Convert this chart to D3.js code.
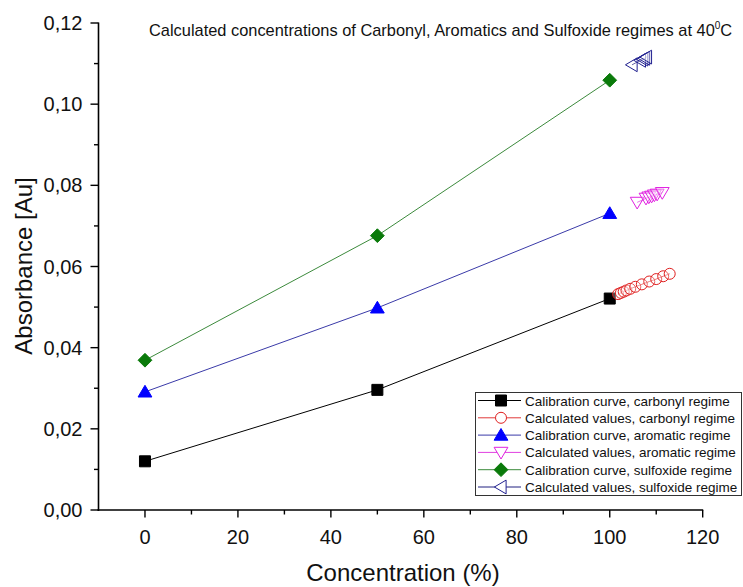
<!DOCTYPE html>
<html>
<head>
<meta charset="utf-8">
<script src="https://cdn.jsdelivr.net/npm/d3@7/dist/d3.min.js"></script>
<style>
  body { margin: 0; background: #fff; }
  svg { display: block; font-family: "Liberation Sans", Arial, sans-serif; }
</style>
</head>
<body>
<svg id="chart" width="743" height="587"></svg>
<script>
// ---- data ----
const calibX = [0, 50, 100];
const carbonylCal = [0.012, 0.0296, 0.0521];
const aromaticCal = [0.0291, 0.0498, 0.0731];
const sulfoxideCal = [0.0369, 0.0676, 0.1059];

const carbonylCalcX = [101.8, 102.4, 103.0, 103.6, 104.4, 105.5, 106.9, 108.5, 110.0, 111.5, 112.9];
const carbonylCalcY = [0.0532, 0.0535, 0.0538, 0.0541, 0.0545, 0.0550, 0.0556, 0.0563, 0.0569, 0.0576, 0.0582];

const aromaticCalcX = [105.9, 107.8, 108.4, 109.0, 109.6, 110.2, 111.3];
const aromaticCalcY = [0.0758, 0.0768, 0.0771, 0.0773, 0.0776, 0.0778, 0.0782];

const sulfoxideCalcX = [104.8, 106.6, 107.1, 107.5, 107.9];
const sulfoxideCalcY = [0.1097, 0.1108, 0.1111, 0.1113, 0.1116];

const xTicks = [0, 20, 40, 60, 80, 100, 120];
const yTicks = [0, 0.02, 0.04, 0.06, 0.08, 0.10, 0.12];

const legendLabels = [
  "Calibration curve, carbonyl regime",
  "Calculated values, carbonyl regime",
  "Calibration curve, aromatic regime",
  "Calculated values, aromatic regime",
  "Calibration curve, sulfoxide regime",
  "Calculated values, sulfoxide regime"
];

// ---- layout ----
const svg = d3.select("#chart");
const x = d3.scaleLinear().domain([-10, 120]).range([98.5, 702.7]);
const y = d3.scaleLinear().domain([0, 0.12]).range([510, 23]);
const fmt = d => d3.format(".2f")(d).replace(".", ",");

// axes
const xAxis = svg.append("g").attr("transform", "translate(0,510)");
xAxis.append("line").attr("x1", x(-10) - 1).attr("x2", x(120) + 0.5).attr("stroke", "#000").attr("stroke-width", 1.6);
xAxis.selectAll(".minor").data(d3.range(10, 120, 20)).enter().append("line")
  .attr("x1", d => x(d)).attr("x2", d => x(d)).attr("y1", 0).attr("y2", 4.5)
  .attr("stroke", "#000").attr("stroke-width", 1.4);
xAxis.selectAll(".major").data(xTicks).enter().append("line")
  .attr("x1", d => x(d)).attr("x2", d => x(d)).attr("y1", 0).attr("y2", 7.5)
  .attr("stroke", "#000").attr("stroke-width", 1.4);
xAxis.selectAll(".lbl").data(xTicks).enter().append("text")
  .attr("x", d => x(d)).attr("y", 34).attr("text-anchor", "middle")
  .attr("font-size", 20).attr("fill", "#111").text(d => d);

const yAxis = svg.append("g").attr("transform", `translate(${x(-10)},0)`);
yAxis.append("line").attr("y1", y(0.12) - 0.5).attr("y2", y(0) + 1).attr("stroke", "#000").attr("stroke-width", 1.6);
yAxis.selectAll(".minor").data(d3.range(0.01, 0.12, 0.02)).enter().append("line")
  .attr("y1", d => y(d)).attr("y2", d => y(d)).attr("x1", 0).attr("x2", -4.5)
  .attr("stroke", "#000").attr("stroke-width", 1.4);
yAxis.selectAll(".major").data(yTicks).enter().append("line")
  .attr("y1", d => y(d)).attr("y2", d => y(d)).attr("x1", 0).attr("x2", -8)
  .attr("stroke", "#000").attr("stroke-width", 1.4);
yAxis.selectAll(".lbl").data(yTicks).enter().append("text")
  .attr("x", -16).attr("y", d => y(d) + 7).attr("text-anchor", "end")
  .attr("font-size", 20).attr("fill", "#111").text(fmt);

// axis titles
svg.append("text").attr("x", 403).attr("y", 581).attr("text-anchor", "middle")
  .attr("font-size", 24).attr("fill", "#111").text("Concentration (%)");
svg.append("text").attr("transform", "translate(32,266) rotate(-90)").attr("text-anchor", "middle")
  .attr("font-size", 24).attr("fill", "#111").text("Absorbance [Au]");

// title
const t = svg.append("text").attr("x", 149).attr("y", 36).attr("font-size", 16.4).attr("fill", "#111");
t.append("tspan").text("Calculated concentrations of Carbonyl, Aromatics and Sulfoxide regimes at 40");
t.append("tspan").attr("font-size", 10).attr("dy", -7).text("0");
t.append("tspan").attr("dy", 7).text("C");

// ---- markers ----
function markerPath(kind, s) {
  const h = s / 2;
  switch (kind) {
    case "square": return `M${-h},${-h}H${h}V${h}H${-h}Z`;
    case "diamond": return `M0,${-h*1.25}L${h*1.25},0L0,${h*1.25}L${-h*1.25},0Z`;
    case "tri-up": return `M0,${-h*1.1}L${h*1.15},${h*0.85}L${-h*1.15},${h*0.85}Z`;
    case "tri-down": return `M0,${h*1.1}L${h*1.15},${-h*0.85}L${-h*1.15},${-h*0.85}Z`;
    case "tri-left": return `M${-h*1.1},0L${h*0.85},${-h*1.15}L${h*0.85},${h*1.15}Z`;
    case "circle": return d3.symbol(d3.symbolCircle, Math.PI * h * h)();
  }
}

const series = [
  { xs: calibX, ys: carbonylCal, line: "#000", kind: "square", fill: "#000", stroke: "#000", size: 11 },
  { xs: carbonylCalcX, ys: carbonylCalcY, line: "#e03a3a", kind: "circle", fill: "none", stroke: "#e02020", size: 11 },
  { xs: calibX, ys: aromaticCal, line: "#3a3aa8", kind: "tri-up", fill: "#0000ff", stroke: "#0000ff", size: 12 },
  { xs: aromaticCalcX, ys: aromaticCalcY, line: "#e040e0", kind: "tri-down", fill: "none", stroke: "#e020e0", size: 12 },
  { xs: calibX, ys: sulfoxideCal, line: "#3c8a3c", kind: "diamond", fill: "#0a7a0a", stroke: "#0a7a0a", size: 11 },
  { xs: sulfoxideCalcX, ys: sulfoxideCalcY, line: "#202080", kind: "tri-left", fill: "none", stroke: "#202090", size: 12 }
];

const lineGen = d3.line().x(d => x(d[0])).y(d => y(d[1]));
series.forEach(s => {
  const pts = s.xs.map((v, i) => [v, s.ys[i]]);
  svg.append("path").attr("d", lineGen(pts)).attr("fill", "none").attr("stroke", s.line).attr("stroke-width", 1);
});
series.forEach(s => {
  const pts = s.xs.map((v, i) => [v, s.ys[i]]);
  svg.selectAll(null).data(pts).enter().append("path")
    .attr("transform", d => `translate(${x(d[0])},${y(d[1])})`)
    .attr("d", markerPath(s.kind, s.size))
    .attr("fill", s.fill === "none" ? "#fff" : s.fill)
    .attr("fill-opacity", s.fill === "none" ? 0.3 : 1)
    .attr("stroke", s.stroke).attr("stroke-width", 1);
});

// ---- legend ----
const lg = svg.append("g");
lg.append("rect").attr("x", 475.5).attr("y", 392.5).attr("width", 266).attr("height", 103)
  .attr("fill", "#fff").attr("stroke", "#333").attr("stroke-width", 1);
series.forEach((s, i) => {
  const cy = 400.5 + i * 17.3;
  lg.append("line").attr("x1", 478).attr("x2", 521).attr("y1", cy).attr("y2", cy)
    .attr("stroke", s.line).attr("stroke-width", 1);
  lg.append("path").attr("transform", `translate(501,${cy})`).attr("d", markerPath(s.kind, s.size))
    .attr("fill", s.fill === "none" ? "#fff" : s.fill).attr("stroke", s.stroke).attr("stroke-width", 1);
  lg.append("text").attr("x", 525).attr("y", cy + 5).attr("font-size", 13.5).attr("fill", "#111")
    .text(legendLabels[i]);
});
</script>
</body>
</html>
